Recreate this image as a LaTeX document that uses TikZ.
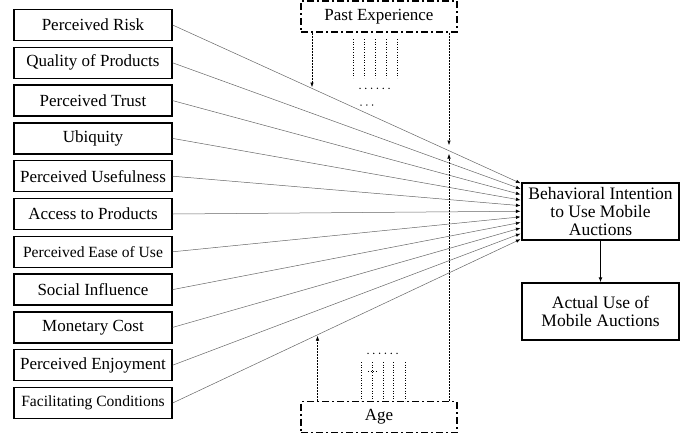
\documentclass[tikz,border=0pt]{standalone}
\usepackage{fontspec}
\setmainfont{Liberation Serif}
\usetikzlibrary{arrows.meta, positioning, calc}

\tikzset{
  factor/.style={draw, line width=1.3pt, minimum width=158pt, minimum height=31pt, inner sep=0pt},
  outcome/.style={draw, line width=1.5pt, minimum width=157pt, minimum height=57pt, inner sep=0pt, align=center, font=\fontsize{17.5}{18.2}\selectfont},
  moderator/.style={draw, line width=1.4pt, dash pattern=on 7pt off 3pt on 2pt off 3pt, minimum width=156pt, minimum height=31pt, inner sep=0pt, font=\fontsize{17}{19}\selectfont},
  effect/.style={draw=black!60, line width=0.5pt, -{Latex[length=4.5pt, width=3.5pt, black]}},
  modpath/.style={densely dotted, line width=0.5pt, -{Latex[length=4.5pt, width=3.5pt]}},
  bundle/.style={dotted, line width=0.6pt}
}

\begin{document}
\begin{tikzpicture}[x=1pt, y=-1pt]
  \useasboundingbox (0,0) rectangle (686,437);

  %% Factors on the left
  \foreach \i/\fs/\lab in {1/17/{Perceived Risk}, 2/17/{Quality of Products}, 3/17/{Perceived Trust},
      4/17/{Ubiquity}, 5/17/{Perceived Usefulness}, 6/17/{Access to Products},
      7/15.6/{Perceived Ease of Use}, 8/17/{Social Influence}, 9/17/{Monetary Cost},
      10/17/{Perceived Enjoyment}, 11/15.6/{Facilitating Conditions}}{
    \node[factor, font=\fontsize{\fs}{18}\selectfont] (f\i) at (93, {25+(\i-1)*37.8}) {\lab};
  }

  %% Intention and use
  \node[outcome] (bi) at (600.5,211.5) {Behavioral Intention\\to Use Mobile\\Auctions};
  \node[outcome] (au) at (600.5,311.5) {Actual Use of\\Mobile Auctions};
  \draw[line width=1pt, -{Latex[length=5pt, width=4pt]}] (bi) -- (au);

  %% Moderators
  \node[moderator] (pe) at (379,16.5) {Past Experience};
  \node[moderator] (age) at (379,417) {Age};

  %% Effects on intention
  \foreach \i in {1,...,11}{
    \draw[effect] (f\i.east) -- ($(bi.north west)+(-0.8, {1+(\i-1)*5.6})$);
  }

  %% Moderating paths
  \coordinate (pe1) at (312,87);
  \coordinate (pe2) at (449,145);
  \coordinate (ag1) at (449,154);
  \coordinate (ag2) at (317.5,336);
  \draw[modpath] (pe.south -| pe1) -- (pe1);
  \draw[modpath] (pe.south -| pe2) -- (pe2);
  \draw[modpath] (age.north -| ag1) -- (ag1);
  \draw[modpath] (age.north -| ag2) -- (ag2);

  %% Dotted bundles
  \foreach \x in {353,364,375,386,397}{
    \draw[bundle] (\x,39) -- (\x,78);
  }
  \foreach \k in {0,...,5}{
    \fill (360+\k*5.8,88.3) circle (0.75);
  }
  \foreach \k in {0,...,2}{
    \fill (361+\k*5.8,105) circle (0.75);
  }
  \foreach \x in {361.7,372.7,383.3,393.3,405}{
    \draw[bundle] (\x,362) -- (\x,401);
  }
  \foreach \k in {0,...,5}{
    \fill (368+\k*5.8,353.3) circle (0.75);
  }
  \draw[bundle] (368,371) -- (378,371);

\end{tikzpicture}
\end{document}
